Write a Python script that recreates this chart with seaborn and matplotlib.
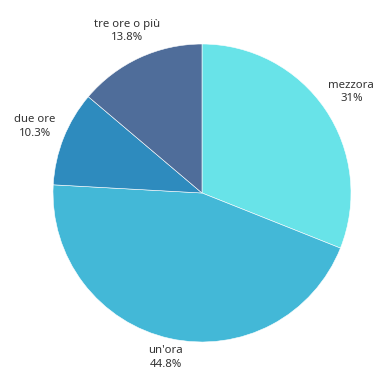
import matplotlib
matplotlib.use("Agg")
import matplotlib.pyplot as plt
import numpy as np
import seaborn as sns

categories = ["mezzora", "un'ora", "due ore", "tre ore o più"]
shares = [31.0, 44.8, 10.3, 13.8]
share_labels = ["31%", "44.8%", "10.3%", "13.8%"]
palette = ["#68E3E8", "#43B8D7", "#2E8BBE", "#4F6D9A"]
label_dist = [1.21, 1.13, 1.21, 1.20]

sns.set_theme(style="white")
plt.rcParams["font.family"] = ["Noto Sans", "DejaVu Sans"]

fig = plt.figure(figsize=(3.78, 3.76), dpi=100)
ax = fig.add_axes([53 / 378, 34 / 376, 298 / 378, 298 / 376])

wedges, _ = ax.pie(
    shares,
    colors=palette,
    startangle=90,
    counterclock=False,
    wedgeprops=dict(edgecolor="white", linewidth=0.4),
)

for w, c, s, d in zip(wedges, categories, share_labels, label_dist):
    mid = np.deg2rad((w.theta1 + w.theta2) / 2)
    ax.text(d * np.cos(mid), d * np.sin(mid), f"{c}\n{s}",
            ha="center", va="center", fontsize=8.2, color="#333333",
            linespacing=1.3)

ax.set_xlim(-1, 1)
ax.set_ylim(-1, 1)
ax.set_aspect("equal")
ax.axis("off")

fig.savefig("out.png", dpi=100, facecolor="white")
